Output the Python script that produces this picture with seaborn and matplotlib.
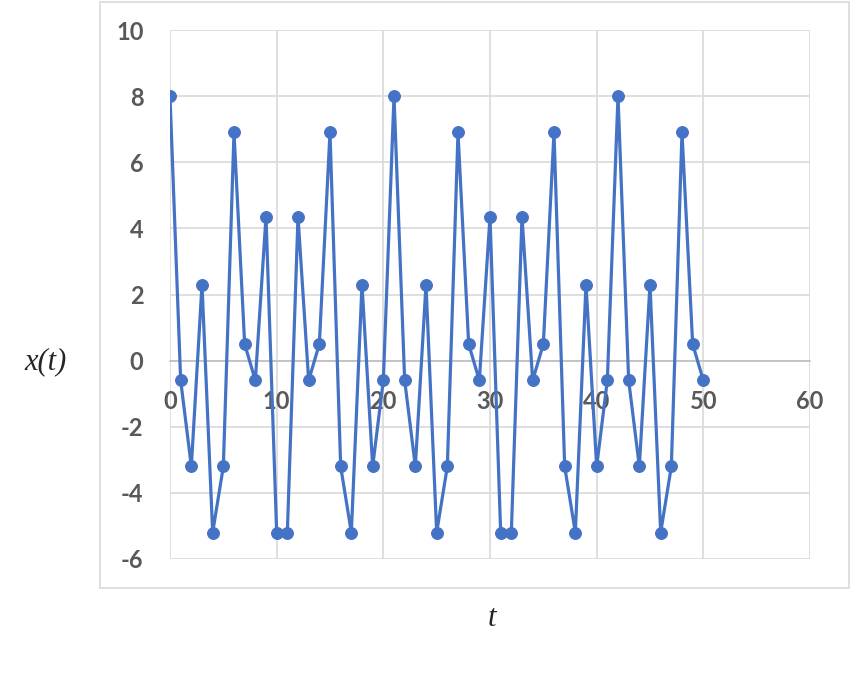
import numpy as np
import pandas as pd
import matplotlib
matplotlib.use("Agg")
import matplotlib.pyplot as plt
from matplotlib.patches import Rectangle
import seaborn as sns

t_vals = list(range(51))
x_vals = [8, -0.6, -3.2, 2.3, -5.2, -3.2, 6.9, 0.5, -0.6, 4.35,
          -5.2, -5.2, 4.35, -0.6, 0.5, 6.9, -3.2, -5.2, 2.3, -3.2,
          -0.6, 8, -0.6, -3.2, 2.3, -5.2, -3.2, 6.9, 0.5, -0.6,
          4.35, -5.2, -5.2, 4.35, -0.6, 0.5, 6.9, -3.2, -5.2, 2.3,
          -3.2, -0.6, 8, -0.6, -3.2, 2.3, -5.2, -3.2, 6.9, 0.5,
          -0.6]
x_ticks = [0, 10, 20, 30, 40, 50, 60]
y_ticks = [-6, -4, -2, 0, 2, 4, 6, 8, 10]

df = pd.DataFrame({"t": t_vals, "x": x_vals})

sns.set_style("white")
plt.rcParams["font.family"] = ["Lato", "DejaVu Sans"]
plt.rcParams["axes.unicode_minus"] = False

fig = plt.figure(figsize=(8.5, 7), dpi=100)
# chart border like excel
fig.patches.append(Rectangle((100/850, 1-588/700), 749/850, 586/700,
                             transform=fig.transFigure, fill=False,
                             edgecolor="#d9d9d9", linewidth=1.2))
ax = fig.add_axes([170/850, 1-559/700, 640/850, 529/700])

sns.lineplot(data=df, x="t", y="x", ax=ax, color="#4472C4", linewidth=2.3,
             marker="o", markersize=8.5, markeredgecolor="#4472C4", zorder=3)

# axis line crosses at y=0 (set before ticks, it resets them)
for s in ["left", "right", "top"]:
    ax.spines[s].set_visible(False)
ax.spines["bottom"].set_position(("data", 0))
ax.spines["bottom"].set_color("#bfbfbf")
ax.spines["bottom"].set_linewidth(1.2)

ax.set_xlim(0, 60)
ax.set_ylim(-6, 10)
ax.set_xticks(x_ticks, labels=[str(v) for v in x_ticks], fontweight="bold")
ax.set_yticks(y_ticks, labels=[str(v) for v in y_ticks], fontweight="bold")
ax.grid(True, color="#d9d9d9", linewidth=1.2)
ax.tick_params(axis="both", length=0, labelsize=17, labelcolor="#595959")
ax.tick_params(axis="x", pad=21)
ax.tick_params(axis="y", pad=19)
ax.set_xlabel("")
ax.set_ylabel("")

fig.text(45/850, 1-362/700, "x(t)", fontsize=22, style="italic",
         family="Liberation Serif", ha="center", va="center")
fig.text(492/850, 1-618/700, "t", fontsize=22, style="italic",
         family="Liberation Serif", ha="center", va="center")

fig.savefig("out.png", dpi=100)
